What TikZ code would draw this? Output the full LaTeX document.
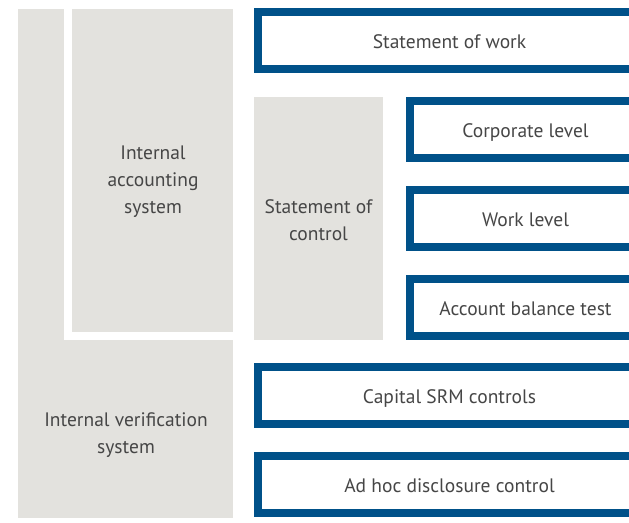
\documentclass[tikz,border=0pt]{standalone}
\usepackage{fontspec}
\setmainfont{PT Sans}
\definecolor{boxblue}{RGB}{0, 81, 137}
\definecolor{panelgray}{RGB}{227, 226, 222}
\definecolor{labelgray}{RGB}{70, 70, 70}

\begin{document}
\begin{tikzpicture}[x=1pt, y=-1pt,
    font=\fontsize{19.5}{27}\selectfont, text=labelgray,
    ctrlbox/.style={draw=boxblue, line width=8pt, fill=white, rectangle,
        minimum height=57pt, inner sep=0pt, text height=19pt, text depth=4pt},
    panellabel/.style={align=center, inner sep=0pt}]
        \useasboundingbox (0,0) rectangle (629,522);
        \clip (0,0) rectangle (629,522);

        % Grey panels
        \fill[panelgray] (18,9) rectangle (233,518);
        \fill[white] (64,9) rectangle (233,340);
        \fill[panelgray] (72,9) rectangle (233,332);
        \fill[panelgray] (254,97) rectangle (383,340);

        % Panel labels
        \node[panellabel] (accsys) at (153,182) {Internal\\accounting\\system};
        \node[panellabel] (versys) at (126,435) {Internal verification\\system};
        \node[panellabel] (stctrl) at (318.5,220.5) {Statement of\\control};

        % Blue boxes (open to the right)
        \node[ctrlbox, minimum width=383pt] (work) at (449.5,40.5) {Statement of work};
        \node[ctrlbox, minimum width=231pt] (corp) at (525.5,129.5) {Corporate level};
        \node[ctrlbox, minimum width=231pt] (wlev) at (525.5,218.5) {Work level};
        \node[ctrlbox, minimum width=231pt] (acct) at (525.5,307.5) {Account balance test};
        \node[ctrlbox, minimum width=383pt] (srm) at (449.5,395.5) {Capital SRM controls};
        \node[ctrlbox, minimum width=383pt] (adhoc) at (449.5,484.5) {Ad hoc disclosure control};
\end{tikzpicture}
\end{document}
